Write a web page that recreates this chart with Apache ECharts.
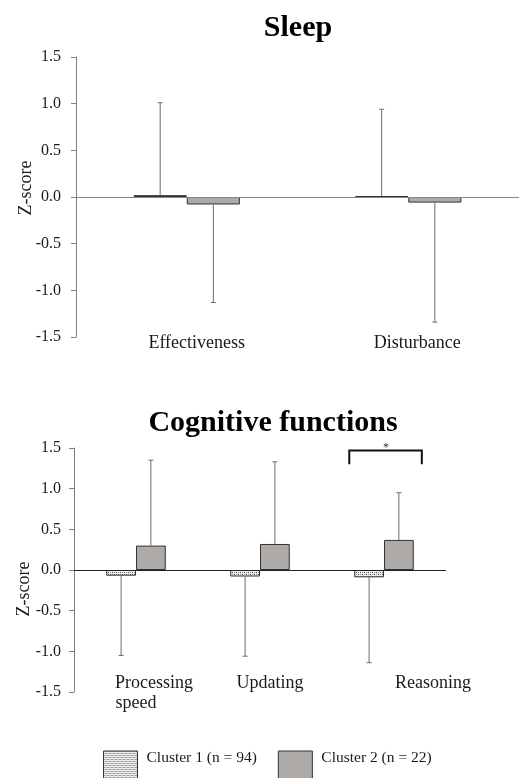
<!DOCTYPE html>
<html>
<head>
<meta charset="utf-8">
<script src="https://cdn.jsdelivr.net/npm/echarts@6/dist/echarts.min.js"></script>
<style>
html,body{margin:0;padding:0;background:#fff;}
#chart{width:519px;height:778px;}
</style>
</head>
<body>
<div id="chart"></div>
<script>
// ---- data ----
const seriesNames = ['Cluster 1 (n = 94)', 'Cluster 2 (n = 22)'];
const sleepCategories = ['Effectiveness', 'Disturbance'];
const sleepCluster1 = [0.02, 0.01];
const sleepCluster2 = [-0.08, -0.06];
const sleepCluster1ErrEnd = [1.01, 0.94];
const sleepCluster2ErrEnd = [-1.13, -1.34];
const cogCategories = ['Processing speed', 'Updating', 'Reasoning'];
const cogCluster1 = [-0.07, -0.08, -0.09];
const cogCluster2 = [0.30, 0.32, 0.37];
const cogCluster1ErrEnd = [-1.05, -1.06, -1.14];
const cogCluster2ErrEnd = [1.35, 1.33, 0.95];
const yTickLabels = ['-1.5', '-1.0', '-0.5', '0.0', '0.5', '1.0', '1.5'];
const significance = [{ category: 'Reasoning', top: 1.47, bottom: 1.30, mark: '*' }];

// ---- styling ----
const FONT = 'Liberation Serif';
function makePattern() {
  const c = document.createElement('canvas');
  c.width = 4; c.height = 4;
  const ctx = c.getContext('2d');
  ctx.fillStyle = '#ececec';
  ctx.fillRect(0, 0, 4, 4);
  ctx.fillStyle = '#4a4a4a';
  ctx.fillRect(0, 0, 1, 1);
  ctx.fillRect(2, 2, 1, 1);
  ctx.fillStyle = '#9a9a9a';
  ctx.fillRect(2, 0, 1, 1);
  ctx.fillRect(0, 2, 1, 1);
  return c;
}
const patternFill = { image: makePattern(), repeat: 'repeat' };
const gray2 = '#aeaaa7';
const labelShift = { 'Effectiveness': 20, 'Disturbance': 18, 'Processing speed': 36, 'Updating': 20, 'Reasoning': 98 };

function catFormatter(v) {
  const parts = v.split(' ');
  const shift = labelShift[v] || 0;
  if (v === 'Processing speed') {
    return '{s' + shift + '|' + parts[0] + '}\n{s0|' + parts[1] + '}';
  }
  return '{s' + shift + '|' + v + '}';
}
const rich = {};
[0, 18, 20, 36, 98].forEach(function (s) {
  rich['s' + s] = { fontFamily: FONT, fontSize: 18, color: '#1a1a1a', lineHeight: 20, padding: [0, 0, 0, s] };
});

function errRender(offsetFrac) {
  return function (params, api) {
    const band = api.size([1, 0])[0];
    const p0 = api.coord([api.value(0), api.value(1)]);
    const p1 = api.coord([api.value(0), api.value(2)]);
    const x = p0[0] + offsetFrac * band;
    const st = { stroke: '#6a6a6a', lineWidth: 1 };
    return {
      type: 'group',
      children: [
        { type: 'line', shape: { x1: x, y1: p0[1], x2: x, y2: p1[1] }, style: st },
        { type: 'line', shape: { x1: x - 2.5, y1: p1[1], x2: x + 2.5, y2: p1[1] }, style: st }
      ]
    };
  };
}

function sigRender(params, api) {
  const band = api.size([1, 0])[0];
  const pTop = api.coord([api.value(0), api.value(1)]);
  const pBot = api.coord([api.value(0), api.value(2)]);
  const xl = pTop[0] - 0.28 * band;
  const xr = pTop[0] + 0.305 * band;
  return {
    type: 'group',
    children: [
      { type: 'polyline', shape: { points: [[xl, pBot[1]], [xl, pTop[1]], [xr, pTop[1]], [xr, pBot[1]]] },
        style: { stroke: '#111', lineWidth: 2, fill: null } },
      { type: 'text', x: pTop[0] + 2, y: pTop[1] - 3,
        style: { text: significance[params.dataIndex].mark, fontFamily: FONT, fontSize: 12, fill: '#333', align: 'center', verticalAlign: 'middle' } }
    ]
  };
}

function yAxisFor(gridIndex, margin, namePad) {
  return {
    gridIndex: gridIndex, type: 'value', min: -1.5, max: 1.5, interval: 0.5,
    name: 'Z-score', nameLocation: 'middle', nameGap: 41, nameMoveOverlap: false,
    nameTextStyle: { fontFamily: FONT, fontSize: 18, color: '#1a1a1a', padding: namePad },
    axisLine: { show: true, lineStyle: { color: '#808080', width: 1 } },
    axisTick: { show: true, length: 5, lineStyle: { color: '#808080' } },
    splitLine: { show: false },
    axisLabel: {
      fontFamily: FONT, fontSize: 16, color: '#1a1a1a', margin: margin,
      formatter: function (v) { return yTickLabels[Math.round((v + 1.5) / 0.5)]; }
    }
  };
}

function xAxisFor(gridIndex, cats, margin) {
  return {
    gridIndex: gridIndex, type: 'category', data: cats,
    axisLine: { show: false }, axisTick: { show: false },
    axisLabel: { margin: margin, formatter: catFormatter, rich: rich, interval: 0 }
  };
}

function zeroLine(color) {
  return {
    silent: true, symbol: ['none', 'none'], label: { show: false },
    lineStyle: { color: color, type: 'solid', width: 1 },
    data: [{ yAxis: 0 }]
  };
}

const barBase = { type: 'bar', barGap: '0%', barCategoryGap: '52%' };

const option = {
  animation: false,
  backgroundColor: '#fff',
  title: [
    { text: 'Sleep', left: 293, top: 8, textAlign: 'center',
      textStyle: { fontFamily: FONT, fontSize: 30, fontWeight: 'bold', color: '#000' } },
    { text: 'Cognitive functions', left: 268, top: 403, textAlign: 'center',
      textStyle: { fontFamily: FONT, fontSize: 30, fontWeight: 'bold', color: '#000' } }
  ],
  legend: {
    data: seriesNames, left: 98, top: 745, itemWidth: 34, itemHeight: 30, itemGap: 21,
    icon: 'rect',
    itemStyle: { borderColor: '#333', borderWidth: 1 },
    formatter: function (name) { return '{t|' + name + '}\n{u| }'; },
    textStyle: { fontFamily: FONT, fontSize: 15.5, color: '#1a1a1a', padding: [0, 0, 0, 4],
      rich: {
        t: { fontFamily: FONT, fontSize: 15.5, color: '#1a1a1a', lineHeight: 20 },
        u: { fontFamily: FONT, fontSize: 10, lineHeight: 16 }
      } }
  },
  grid: [
    { left: 76, top: 57, width: 454, height: 280 },
    { left: 74, top: 448, width: 372, height: 244 }
  ],
  xAxis: [xAxisFor(0, sleepCategories, -4), xAxisFor(1, cogCategories, -19)],
  yAxis: [yAxisFor(0, 15, [0, 0, 0, 18]), yAxisFor(1, 13, [0, 38, 0, 0])],
  series: [
    Object.assign({}, barBase, { name: seriesNames[0], xAxisIndex: 0, yAxisIndex: 0, data: sleepCluster1,
      itemStyle: { color: patternFill, borderColor: '#333', borderWidth: 1 } }),
    Object.assign({}, barBase, { name: seriesNames[1], xAxisIndex: 0, yAxisIndex: 0, data: sleepCluster2,
      itemStyle: { color: gray2, borderColor: '#333', borderWidth: 1 }, markLine: zeroLine('#888') }),
    Object.assign({}, barBase, { name: seriesNames[0], xAxisIndex: 1, yAxisIndex: 1, data: cogCluster1,
      itemStyle: { color: patternFill, borderColor: '#333', borderWidth: 1 } }),
    Object.assign({}, barBase, { name: seriesNames[1], xAxisIndex: 1, yAxisIndex: 1, data: cogCluster2,
      itemStyle: { color: gray2, borderColor: '#333', borderWidth: 1 }, markLine: zeroLine('#222') }),
    { type: 'custom', name: 'err1a', xAxisIndex: 0, yAxisIndex: 0, renderItem: errRender(-0.12),
      data: sleepCluster1.map(function (v, i) { return [i, v, sleepCluster1ErrEnd[i]]; }) },
    { type: 'custom', name: 'err2a', xAxisIndex: 0, yAxisIndex: 0, renderItem: errRender(0.12),
      data: sleepCluster2.map(function (v, i) { return [i, v, sleepCluster2ErrEnd[i]]; }) },
    { type: 'custom', name: 'err1b', xAxisIndex: 1, yAxisIndex: 1, renderItem: errRender(-0.12),
      data: cogCluster1.map(function (v, i) { return [i, v, cogCluster1ErrEnd[i]]; }) },
    { type: 'custom', name: 'err2b', xAxisIndex: 1, yAxisIndex: 1, renderItem: errRender(0.12),
      data: cogCluster2.map(function (v, i) { return [i, v, cogCluster2ErrEnd[i]]; }) },
    { type: 'custom', name: 'sig', xAxisIndex: 1, yAxisIndex: 1, renderItem: sigRender,
      data: significance.map(function (s) { return [cogCategories.indexOf(s.category), s.top, s.bottom]; }) }
  ]
};

const chart = echarts.init(document.getElementById('chart'), null, { renderer: 'canvas' });
chart.setOption(option);
</script>
</body>
</html>
